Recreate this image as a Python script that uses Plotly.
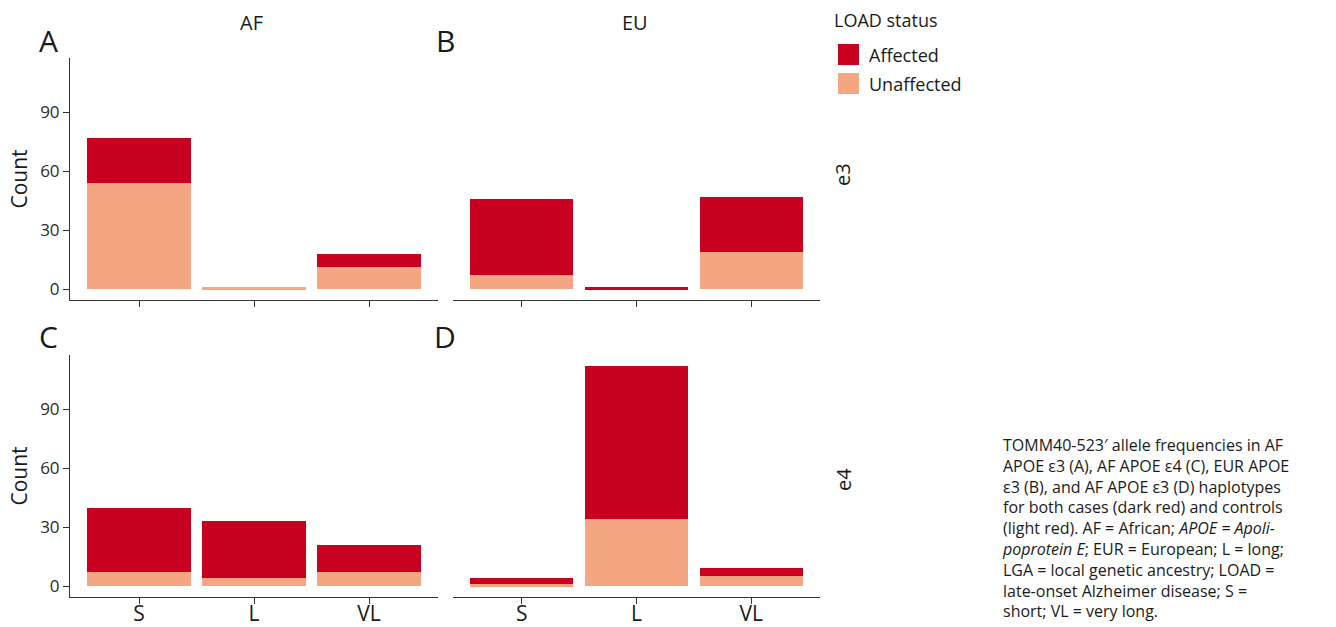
import plotly.graph_objects as go

# ---- data ----
categories = ["S", "L", "VL"]
ancestries = ["AF", "EU"]
apoe = ["e3", "e4"]
panel_letters = {("e3", "AF"): "A", ("e3", "EU"): "B", ("e4", "AF"): "C", ("e4", "EU"): "D"}
status_names = ["Affected", "Unaffected"]

affected = {
    ("e3", "AF"): [23, 0, 7],
    ("e3", "EU"): [39, 1, 28],
    ("e4", "AF"): [33, 29, 14],
    ("e4", "EU"): [3, 78, 4],
}
unaffected = {
    ("e3", "AF"): [54, 1, 11],
    ("e3", "EU"): [7, 0, 19],
    ("e4", "AF"): [7, 4, 7],
    ("e4", "EU"): [1, 34, 5],
}

caption_lines = [
    "TOMM40-523\u2032 allele frequencies in AF",
    "APOE \u03b53 (A), AF APOE \u03b54 (C), EUR APOE",
    "\u03b53 (B), and AF APOE \u03b53 (D) haplotypes",
    "for both cases (dark red) and controls",
    "(light red). AF = African; <i>APOE = Apoli-</i>",
    "<i>poprotein E</i>; EUR = European; L = long;",
    "LGA = local genetic ancestry; LOAD =",
    "late-onset Alzheimer disease; S =",
    "short; VL = very long.",
]

COL_AFF = "#CA0020"
COL_UNAFF = "#F4A582"
FONT = "Open Sans"
TXT = "#1a1a1a"
W, H = 1336, 627

def px_x(p):
    return p / W

def px_y(p):
    return 1 - p / H

x_domains = {"AF": [px_x(70), px_x(438)], "EU": [px_x(453), px_x(820)]}
y_domains = {"e3": [px_y(300), px_y(58)], "e4": [px_y(597), px_y(355)]}

fig = go.Figure()
layout_axes = {}
idx = 0
for r, a in enumerate(apoe):
    for c, anc in enumerate(ancestries):
        idx += 1
        xa = "x" if idx == 1 else f"x{idx}"
        ya = "y" if idx == 1 else f"y{idx}"
        key = (a, anc)
        fig.add_trace(go.Bar(
            x=categories, y=unaffected[key], name="Unaffected",
            marker=dict(color=COL_UNAFF, line=dict(width=0)), width=0.9,
            xaxis=xa, yaxis=ya, showlegend=False,
        ))
        fig.add_trace(go.Bar(
            x=categories, y=affected[key], name="Affected",
            marker=dict(color=COL_AFF, line=dict(width=0)), width=0.9,
            xaxis=xa, yaxis=ya, showlegend=False,
        ))
        xname = "xaxis" if idx == 1 else f"xaxis{idx}"
        yname = "yaxis" if idx == 1 else f"yaxis{idx}"
        layout_axes[xname] = dict(
            domain=x_domains[anc], anchor=ya, range=[-0.6, 2.6], automargin=False,
            categoryorder="array", categoryarray=categories,
            showline=True, linecolor="#333333", linewidth=1,
            ticks="outside", ticklen=6, tickcolor="#333333",
            showticklabels=(a == "e4"), showgrid=False, zeroline=False,
            ticklabelstandoff=-8,
            tickfont=dict(size=21, color=TXT, family=FONT),
        )
        layout_axes[yname] = dict(
            domain=y_domains[a], anchor=xa, range=[-5.6, 117.7], automargin=False,
            tickvals=[0, 30, 60, 90],
            showline=(anc == "AF"), linecolor="#333333", linewidth=1,
            ticks="outside" if anc == "AF" else "", ticklen=6, tickcolor="#333333",
            showticklabels=(anc == "AF"), showgrid=False, zeroline=False,
            tickfont=dict(size=17, color="#2a2a2a", family=FONT),
            title=dict(text="Count" if anc == "AF" else "", font=dict(size=21, family=FONT, color=TXT), standoff=6),
        )

annotations = []
shapes = []

def ann(text, x, y, size, xanchor="center", yanchor="middle", angle=0, align="center"):
    annotations.append(dict(text=text, x=px_x(x), y=px_y(y), xref="paper", yref="paper",
                            xanchor=xanchor, yanchor=yanchor, showarrow=False, textangle=angle,
                            align=align, borderpad=0,
                            font=dict(size=size, family=FONT, color=TXT)))

# strip labels
for anc in ancestries:
    d = x_domains[anc]
    ann(anc, (d[0] + d[1]) / 2 * W - 2, 22, 20)
ann("e3", 843, 175, 20, angle=-90)
ann("e4", 843, 480, 20, angle=-90)
# panel letters
for (a, anc), letter in panel_letters.items():
    ann(letter, 48 if anc == "AF" else 445, 40 if a == "e3" else 336, 30)

# legend (drawn)
ann("LOAD status", 833, 20, 18, xanchor="left")
legend_colors = {"Affected": COL_AFF, "Unaffected": COL_UNAFF}
for i, name in enumerate(status_names):
    y0 = 44 + i * 29
    shapes.append(dict(type="rect", xref="paper", yref="paper",
                       x0=px_x(838), x1=px_x(859), y0=px_y(y0 + 21), y1=px_y(y0),
                       fillcolor=legend_colors[name], line=dict(width=0)))
    ann(name, 868, y0 + 10.5, 18, xanchor="left")

# caption (one text block)
ann("<br>".join(caption_lines), 1001, 433, 16, xanchor="left", yanchor="top", align="left")

fig.update_layout(
    width=W, height=H, margin=dict(l=0, r=0, t=0, b=0, autoexpand=False),
    paper_bgcolor="white", plot_bgcolor="white",
    barmode="stack", bargap=0.1, showlegend=False,
    font=dict(family=FONT, color=TXT),
    annotations=annotations, shapes=shapes,
    **layout_axes,
)

fig.write_html("out.html", config={"displayModeBar": False},
               post_script="document.body.style.margin='0';document.body.style.overflow='hidden';")
